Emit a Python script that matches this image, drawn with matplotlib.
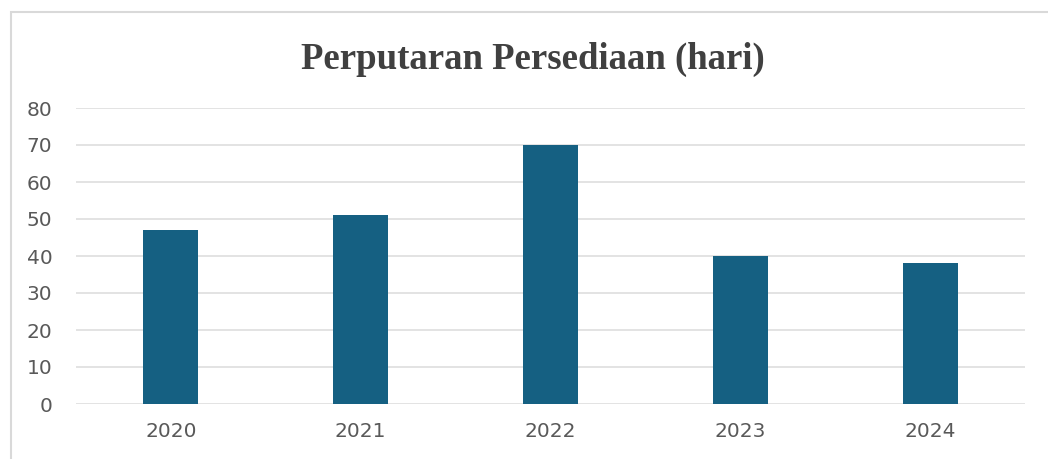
import matplotlib.pyplot as plt
from matplotlib.patches import Rectangle

years = ['2020', '2021', '2022', '2023', '2024']
days = [47, 51, 70, 40, 38]

W, H = 1048, 459
fig = plt.figure(figsize=(W / 100, H / 100), dpi=100)
fig.patch.set_facecolor('white')

# chart frame (cut off at right and bottom, as in the original)
fig.patches.append(Rectangle((10.5 / W, -0.05), 1.2, 1 - 12.5 / H + 0.05,
                             transform=fig.transFigure, fill=False,
                             edgecolor='#d9d9d9', linewidth=1.5))

ax = fig.add_axes([76 / W, 1 - 404 / H, (1025 - 76) / W, (404 - 108) / H])
ax.bar(years, days, width=0.29, color='#156082', zorder=3)
ax.set_ylim(0, 80)
ax.set_xlim(-0.5, 4.5)
ax.set_yticks(range(0, 81, 10))
ax.grid(axis='y', color='#e0e0e0', linewidth=1.3, zorder=0)
for s in ax.spines.values():
    s.set_visible(False)
ax.tick_params(length=0, labelsize=14.5, labelcolor='#595959')
ax.tick_params(axis='y', pad=17)
ax.tick_params(axis='x', pad=13)

fig.text(533 / W, 1 - 59 / H, 'Perputaran Persediaan (hari)', ha='center', va='center',
         fontsize=26.5, fontweight='bold', color='#404040', fontfamily='Liberation Serif')

fig.savefig('out.png', dpi=100)
